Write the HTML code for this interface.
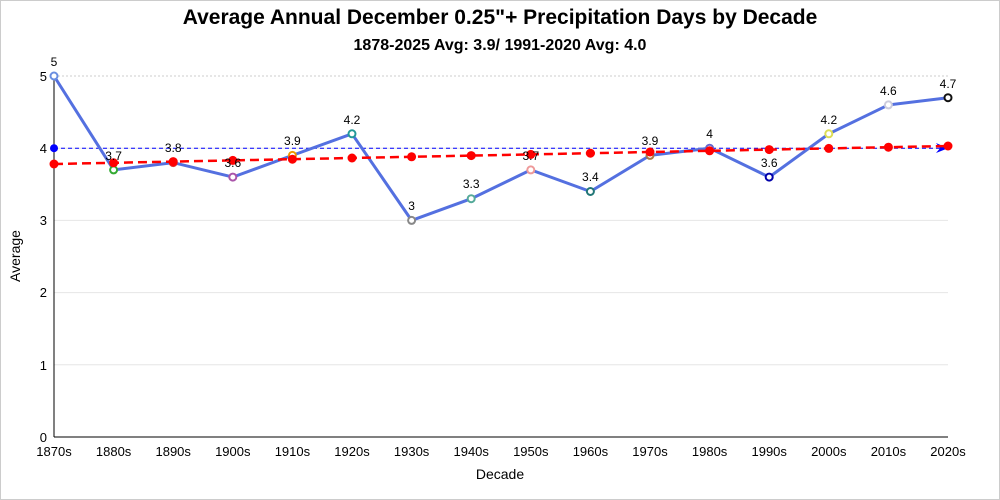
<!DOCTYPE html>
<html><head><meta charset="utf-8"><style>body{margin:0;background:#fff}svg{display:block;font-family:"Liberation Sans",sans-serif}</style></head><body>
<svg width="1000" height="500" viewBox="0 0 1000 500">
<rect x="0.5" y="0.5" width="999" height="499" fill="#fff" stroke="#ccc"/>
<text x="500" y="24" text-anchor="middle" font-size="21" font-weight="bold">Average Annual December 0.25"+ Precipitation Days by Decade</text>
<text x="500" y="50" text-anchor="middle" font-size="16" font-weight="bold">1878-2025 Avg: 3.9/ 1991-2020 Avg: 4.0</text>
<g stroke="#e6e6e6" stroke-width="1">
<line x1="54" x2="948" y1="76" y2="76" stroke-dasharray="2,2" stroke="#ccc"/><line x1="54" x2="948" y1="148.2" y2="148.2"/><line x1="54" x2="948" y1="220.4" y2="220.4"/><line x1="54" x2="948" y1="292.6" y2="292.6"/><line x1="54" x2="948" y1="364.8" y2="364.8"/>
</g>
<line x1="54" y1="76" x2="54" y2="437" stroke="#000"/>
<line x1="54" y1="437" x2="948" y2="437" stroke="#000"/>
<g font-size="13" text-anchor="end"><text x="47" y="442">0</text><text x="47" y="370">1</text><text x="47" y="297">2</text><text x="47" y="225">3</text><text x="47" y="153">4</text><text x="47" y="81">5</text></g>
<g font-size="13" text-anchor="middle">
<text x="54" y="456">1870s</text><text x="113.6" y="456">1880s</text><text x="173.2" y="456">1890s</text><text x="232.8" y="456">1900s</text><text x="292.4" y="456">1910s</text><text x="352" y="456">1920s</text><text x="411.6" y="456">1930s</text><text x="471.2" y="456">1940s</text><text x="530.8" y="456">1950s</text><text x="590.4" y="456">1960s</text><text x="650" y="456">1970s</text><text x="709.6" y="456">1980s</text><text x="769.2" y="456">1990s</text><text x="828.8" y="456">2000s</text><text x="888.4" y="456">2010s</text><text x="948" y="456">2020s</text>
<text x="500" y="479" font-size="14">Decade</text>
</g>
<text x="20" y="256" font-size="14" text-anchor="middle" transform="rotate(-90 20 256)">Average</text>
<line x1="54" y1="148.2" x2="940" y2="148.2" stroke="#00f" stroke-dasharray="4,3"/>
<path d="M936 143 L948 148.2 L936 153 L940 148.2Z" fill="#00f"/>
<circle cx="54" cy="148.2" r="4" fill="#00f"/>
<polyline fill="none" stroke="#5470e0" stroke-width="3" points="54,76 113.6,169.9 173.2,162.6 232.8,177.1 292.4,155.4 352,133.8 411.6,220.4 471.2,198.7 530.8,169.9 590.4,191.5 650,155.4 709.6,148.2 769.2,177.1 828.8,133.8 888.4,104.9 948,97.7"/>
<g stroke-width="2" fill="#fff">
<circle cx="54" cy="76" r="3.5" stroke="#6a8ee0"/><circle cx="113.6" cy="169.9" r="3.5" stroke="#3a3"/><circle cx="173.2" cy="162.6" r="3.5" stroke="#d33"/><circle cx="232.8" cy="177.1" r="3.5" stroke="#a5a"/><circle cx="292.4" cy="155.4" r="3.5" stroke="#e90"/><circle cx="352" cy="133.8" r="3.5" stroke="#299"/><circle cx="411.6" cy="220.4" r="3.5" stroke="#888"/><circle cx="471.2" cy="198.7" r="3.5" stroke="#5a9"/><circle cx="530.8" cy="169.9" r="3.5" stroke="#e99"/><circle cx="590.4" cy="191.5" r="3.5" stroke="#277"/><circle cx="650" cy="155.4" r="3.5" stroke="#a74"/><circle cx="709.6" cy="148.2" r="3.5" stroke="#66c"/><circle cx="769.2" cy="177.1" r="3.5" stroke="#00a"/><circle cx="828.8" cy="133.8" r="3.5" stroke="#dd5"/><circle cx="888.4" cy="104.9" r="3.5" stroke="#ccd"/><circle cx="948" cy="97.7" r="3.5" stroke="#111"/>
</g>
<line x1="54" y1="164" x2="948" y2="146" stroke="#f00" stroke-width="2.5" stroke-dasharray="9,5"/>
<g fill="#f00">
<circle cx="54" cy="164" r="4.5"/><circle cx="113.6" cy="162.8" r="4.5"/><circle cx="173.2" cy="161.6" r="4.5"/><circle cx="232.8" cy="160.4" r="4.5"/><circle cx="292.4" cy="159.2" r="4.5"/><circle cx="352" cy="158" r="4.5"/><circle cx="411.6" cy="156.8" r="4.5"/><circle cx="471.2" cy="155.6" r="4.5"/><circle cx="530.8" cy="154.4" r="4.5"/><circle cx="590.4" cy="153.2" r="4.5"/><circle cx="650" cy="152" r="4.5"/><circle cx="709.6" cy="150.8" r="4.5"/><circle cx="769.2" cy="149.6" r="4.5"/><circle cx="828.8" cy="148.4" r="4.5"/><circle cx="888.4" cy="147.2" r="4.5"/><circle cx="948" cy="146" r="4.5"/>
</g>
<g font-size="12" text-anchor="middle">
<text x="54" y="66">5</text><text x="113.6" y="160">3.7</text><text x="173.2" y="152">3.8</text><text x="232.8" y="167">3.6</text><text x="292.4" y="145">3.9</text><text x="352" y="124">4.2</text><text x="411.6" y="210">3</text><text x="471.2" y="188">3.3</text><text x="530.8" y="160">3.7</text><text x="590.4" y="181">3.4</text><text x="650" y="145">3.9</text><text x="709.6" y="138">4</text><text x="769.2" y="167">3.6</text><text x="828.8" y="124">4.2</text><text x="888.4" y="95">4.6</text><text x="948" y="88">4.7</text>
</g>
</svg>
</body></html>
